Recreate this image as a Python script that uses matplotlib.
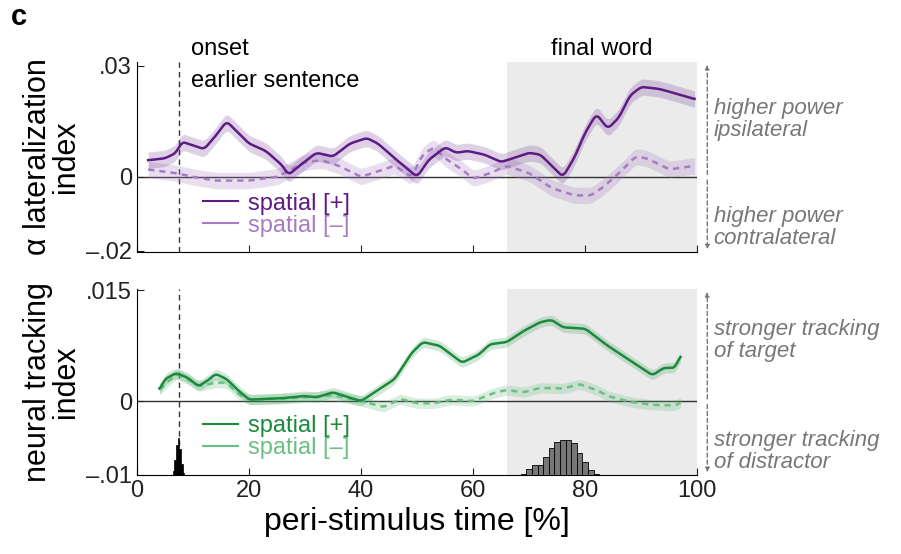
import numpy as np
import matplotlib
matplotlib.use("Agg")
import matplotlib.pyplot as plt
plt.rcParams['font.family'] = ['Liberation Sans', 'DejaVu Sans']

# top panel data
ta_x = [2,5,7,8,10,12,14,16,18,20,23,26,27,29,32,35,38,41,43,46,48,50,52,55,57,59,62,65,67,70,72,74,76,78,80,82,84,86,88,90,93,95,99.5]
ta_y = [.0045,.005,.0065,.0095,.0085,.0075,.011,.015,.012,.009,.007,.003,.0005,.003,.0065,.0055,.009,.0105,.009,.005,.0025,.0,.0045,.008,.0065,.007,.006,.004,.005,.0065,.006,.003,.0,.005,.012,.017,.013,.016,.022,.0243,.0238,.023,.021]
tb_x = [2,7,10,14,20,25,30,33,36,40,44,46,49,51,53,55,58,60,63,66,70,74,78,81,83,86,89,91,95,99.5]
tb_y = [.002,.001,.0,-.001,-.001,.0,.004,.0045,.003,.0,.002,.003,.0,.006,.008,.005,.002,-.0005,.001,.003,.001,-.003,-.005,-.005,-.003,.001,.0055,.005,.002,.003]
# bottom panel data
ba_x = [4,5,7,9,11,13,14,16,18,20,23,26,30,32,35,37,40,43,46,49,51,54,58,61,63,66,69,72,74,76,80,84,88,92,94,96,97]
ba_y = [.0015,.003,.0038,.0032,.002,.003,.0037,.003,.0015,.0002,.0003,.0004,.0007,.0005,.0012,.0007,.0,.0015,.003,.0065,.008,.0075,.0052,.0063,.0077,.008,.0095,.0107,.011,.010,.0098,.0075,.0055,.0035,.0045,.0045,.0062]
bb_x = [4,7,9,11,14,16,18,20,25,30,35,37,40,44,47,50,53,56,60,64,66,69,72,76,79,82,84,88,92,96,97]
bb_y = [.0015,.0037,.003,.002,.0025,.0025,.001,.0002,.0003,.0005,.0008,.0005,.0,-.0008,.0003,-.0003,-.0003,.0002,.0,.0012,.0015,.0012,.0018,.0017,.0023,.0015,.0007,-.0001,-.0005,-.0006,-.0002]
# histograms (heights above -0.01)
h1_x = [6.5,6.8,7.1,7.4,7.7,8.0,8.3]
h1_h = [.0005,.002,.004,.005,.0035,.0015,.0003]
h2_x = [69,70,71,72,73,74,75,76,77,78,79,80,81,82]
h2_h = [.0002,.0008,.0013,.0014,.0025,.0036,.0045,.0048,.0047,.0043,.003,.0018,.0007,.0002]

def smooth(x, y, n=400):
    xs = np.linspace(min(x), max(x), n)
    ys = np.interp(xs, x, y)
    k = np.ones(5) / 5
    yp = np.pad(ys, 2, mode='edge')
    return xs, np.convolve(yp, k, mode='valid')

fig = plt.figure(figsize=(9.01, 5.54), dpi=100)
ax1 = fig.add_axes([0.152, 0.545, 0.622, 0.343])
ax2 = fig.add_axes([0.152, 0.1426, 0.622, 0.336])

P, Pl = '#5e1a85', '#a67cc2'
G, Gl = '#1b8a3c', '#6cbf82'

def panel(ax, a, b, ca, cl, ylim, err):
    ax.axvspan(66, 100, color='#ebebeb', zorder=0, lw=0)
    ax.axhline(0, color='#333333', lw=1, zorder=1)
    ax.axvline(7.5, color='#333333', ls=(0, (4, 3)), lw=1, zorder=1)
    xs, ys = smooth(*b)
    ax.fill_between(xs, ys - err, ys + err, color=cl, alpha=0.25, lw=0)
    ax.plot(xs, ys, color=cl, lw=1.8, ls=(0, (2.5, 2)))
    xs, ys = smooth(*a)
    ax.fill_between(xs, ys - err, ys + err, color=ca, alpha=0.2, lw=0)
    ax.plot(xs, ys, color=ca, lw=1.8)
    ax.set_xlim(0, 100)
    ax.set_ylim(*ylim)
    for s in ['top', 'right']:
        ax.spines[s].set_visible(False)
    ax.tick_params(direction='in', length=5, labelsize=17, colors='#222222')
    ax.set_xticks([0, 20, 40, 60, 80, 100])
    h = [plt.Line2D([], [], color=ca, lw=1.5), plt.Line2D([], [], color=cl, lw=1.5)]
    leg = ax.legend(h, ['spatial [+]', 'spatial [–]'], loc='lower left', bbox_to_anchor=(0.08, -0.03),
                    frameon=False, fontsize=17, handlelength=1.5, handletextpad=0.4, labelspacing=0.0)
    for t, c in zip(leg.get_texts(), [ca, cl]):
        t.set_color(c)

panel(ax1, (ta_x, ta_y), (tb_x, tb_y), P, Pl, (-0.0203, 0.031), 0.0022)
ax1.set_yticks([-0.02, 0, 0.03])
ax1.set_yticklabels(['–.02', '0', '.03'])
ax1.set_xticklabels([])
ax1.set_ylabel('α lateralization\nindex', fontsize=22, linespacing=0.9)

panel(ax2, (ba_x, ba_y), (bb_x, bb_y), G, Gl, (-0.01, 0.0152), 0.0007)
ax2.bar(h1_x, h1_h, bottom=-0.01, width=0.3, color='black', edgecolor='black', lw=0.5, zorder=3)
ax2.bar(h2_x, h2_h, bottom=-0.01, width=1, color='#777777', edgecolor='black', lw=0.6, zorder=3)
ax2.set_yticks([-0.01, 0, 0.015])
ax2.set_yticklabels(['–.01', '0', '.015'])
ax2.set_ylabel('neural tracking\nindex', fontsize=22, linespacing=0.9)
ax2.set_xlabel('peri-stimulus time [%]', fontsize=23)

fig.text(0.012, 0.955, 'c', fontsize=21, weight='bold')
fig.text(0.212, 0.9, 'onset', fontsize=17)
fig.text(0.212, 0.843, 'earlier sentence', fontsize=17)
fig.text(0.668, 0.9, 'final word', fontsize=17, ha='center')

gc = '#777777'
for (y0, y1, ym) in [(0.888, 0.545, 0.68), (0.478, 0.1426, 0.275)]:
    fig.add_artist(matplotlib.patches.FancyArrowPatch((0.785, ym), (0.785, y0), arrowstyle='-|>', mutation_scale=6,
                   color=gc, ls=(0, (3, 2)), lw=1, transform=fig.transFigure))
    fig.add_artist(matplotlib.patches.FancyArrowPatch((0.785, ym), (0.785, y1), arrowstyle='-|>', mutation_scale=6,
                   color=gc, ls=(0, (3, 2)), lw=1, transform=fig.transFigure))
kw = dict(fontsize=16, style='italic', color=gc, linespacing=1.05)
fig.text(0.792, 0.785, 'higher power\nipsilateral', va='center', **kw)
fig.text(0.792, 0.59, 'higher power\ncontralateral', va='center', **kw)
fig.text(0.792, 0.385, 'stronger tracking\nof target', va='center', **kw)
fig.text(0.792, 0.185, 'stronger tracking\nof distractor', va='center', **kw)

fig.savefig('out.png', dpi=100)
